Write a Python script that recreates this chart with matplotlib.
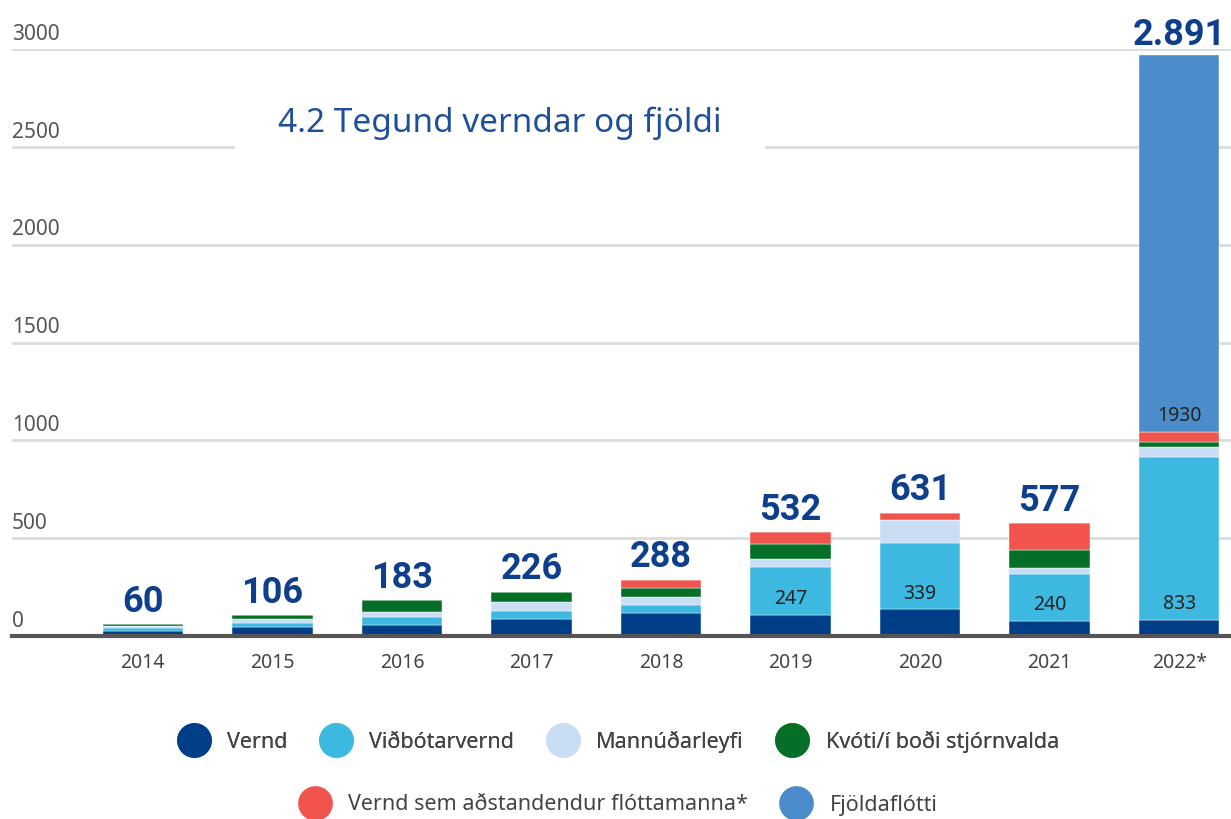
import matplotlib
matplotlib.use("Agg")
import matplotlib.pyplot as plt
from matplotlib.lines import Line2D
import numpy as np

plt.rcParams['font.family'] = ['Noto Sans', 'DejaVu Sans']

years = ['2014', '2015', '2016', '2017', '2018', '2019', '2020', '2021', '2022*']
vernd = [28, 44, 58, 86, 116, 106, 136, 79, 82]
vidbot = [12, 22, 38, 41, 40, 247, 339, 240, 833]
mannud = [9, 20, 28, 49, 43, 40, 116, 30, 50]
kvoti = [11, 20, 59, 50, 46, 79, 0, 90, 26]
adstand = [0, 0, 0, 0, 43, 60, 40, 138, 50]
fjolda = [0, 0, 0, 0, 0, 0, 0, 0, 1930]
totals = ['60', '106', '183', '226', '288', '532', '631', '577', '2.891']

series = [
    ('Vernd', vernd, '#003f87'),
    ('Viðbótarvernd', vidbot, '#3db9e1'),
    ('Mannúðarleyfi', mannud, '#c9def4'),
    ('Kvóti/í boði stjórnvalda', kvoti, '#066f27'),
    ('Vernd sem aðstandendur flóttamanna*', adstand, '#f0544c'),
    ('Fjöldaflótti', fjolda, '#4b8dca'),
]

fig = plt.figure(figsize=(12.31, 8.19), dpi=100)
ax = fig.add_axes([12/1231, 183/819, 1 - 12/1231, 587/819])

x = np.arange(len(years))
bottom = np.zeros(len(years))
bases = {}
for name, vals, col in series:
    vals = np.array(vals, dtype=float)
    ax.bar(x, vals, 0.62, bottom=bottom, color=col, edgecolor='white', linewidth=0.3, zorder=3)
    bases[name] = bottom.copy()
    bottom = bottom + vals

# value labels inside the bars
for i in range(5, 9):
    ax.text(x[i], bases['Viðbótarvernd'][i] + 30, str(vidbot[i]), ha='center', va='bottom',
            fontsize=14, color='#222222', zorder=5)
ax.text(x[8], bases['Fjöldaflótti'][8] + 30, str(fjolda[8]), ha='center', va='bottom',
        fontsize=14, color='#222222', zorder=5)

# totals above bars
for i in range(len(years)):
    top = min(bottom[i], 2960)
    ax.text(x[i], top + 22, totals[i], ha='center', va='bottom', fontsize=26,
            fontweight='bold', family='Roboto', color='#0e3f8c', zorder=5, clip_on=False)

ax.set_xlim(-1.01, 8.40)
ax.set_ylim(0, 3000)
for s in ax.spines.values():
    s.set_visible(False)
ax.set_yticks([])
ax.set_xticks(x)
ax.set_xticklabels(years, fontsize=14, color='#444444')
ax.tick_params(axis='x', length=0, pad=12)

for v in range(500, 3001, 500):
    ax.axhline(v, color='#dcdcdc', lw=2, zorder=1)
for v in range(0, 3001, 500):
    ax.text(0.0, v + 22, str(v), transform=ax.get_yaxis_transform(), ha='left', va='bottom',
            fontsize=15, color='#555555')
ax.axhline(0, color='#555555', lw=3, zorder=4, clip_on=False)

# title sits on a white box that breaks the grid line behind it
fig.text(0.406, (819 - 123)/819, '4.2 Tegund verndar og fjöldi', ha='center', va='center',
         fontsize=24, color='#1f4f9a', zorder=10,
         bbox=dict(facecolor='white', edgecolor='none', pad=31))

handles = [Line2D([], [], marker='o', ls='none', markersize=25, markerfacecolor=c,
                  markeredgecolor='none') for _, _, c in series]
labels = [n for n, _, _ in series]
leg1 = fig.legend(handles[:4], labels[:4], loc='center', bbox_to_anchor=(0.5, (819 - 742)/819),
                  ncol=4, frameon=False, fontsize=15.5, handletextpad=0.55, columnspacing=1.25,
                  labelcolor='#444444')
fig.add_artist(leg1)
fig.legend(handles[4:], labels[4:], loc='center', bbox_to_anchor=(0.5, (819 - 805)/819),
           ncol=2, frameon=False, fontsize=15.5, handletextpad=0.55, columnspacing=1.25,
           labelcolor='#444444')

fig.savefig('out.png', dpi=100)
